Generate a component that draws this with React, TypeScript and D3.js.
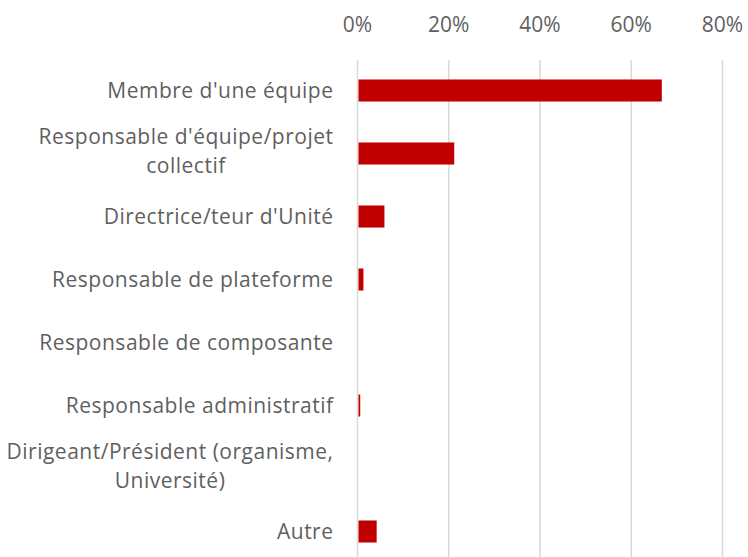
import * as d3 from 'd3';
import React, {useEffect, useRef} from 'react';

// categories, each one is a list of lines (the long ones wrap over two lines)
const categories: string[][] = [
    ["Membre d'une équipe"],
    ["Responsable d'équipe/projet", "collectif"],
    ["Directrice/teur d'Unité"],
    ["Responsable de plateforme"],
    ["Responsable de composante"],
    ["Responsable administratif"],
    ["Dirigeant/Président (organisme,", "Université)"],
    ["Autre"],
];
const shares: number[] = [0.667, 0.212, 0.059, 0.013, 0, 0.006, 0, 0.042];
const ticks: number[] = [0, 0.2, 0.4, 0.6, 0.8];

const W = 748, H = 557;
const margin = {l: 357.5, r: 25.5, t: 59, b: -6};
const font = "'Open Sans', sans-serif";
const grey = "#5f5f5f";

export default function App(){
    const ref = useRef<SVGSVGElement>(null);

    useEffect(() => {
        const svg = d3.select(ref.current);
        svg.selectAll("*").remove();

        const keys = categories.map((c) => c.join(" "));
        const x = d3.scaleLinear().domain([0, 0.8]).range([margin.l, W - margin.r]);
        const y = d3.scaleBand().domain(keys)
            .range([margin.t, H - margin.b])
            .paddingInner(0.65)
            .paddingOuter(0.325);

        // gridlines
        svg.append("g").selectAll("line")
            .data(ticks)
          .enter().append("line")
            .attr("x1", (d) => x(d))
            .attr("x2", (d) => x(d))
            .attr("y1", margin.t + 1)
            .attr("y2", H)
            .attr("stroke", "#d9d9d9")
            .attr("stroke-width", 1.5);

        // tick labels on top
        svg.append("g").selectAll("text")
            .data(ticks)
          .enter().append("text")
            .attr("x", (d) => x(d))
            .attr("y", 32)
            .attr("text-anchor", "middle")
            .style("font-family", font)
            .style("font-size", "21px")
            .attr("fill", grey)
            .text(d3.format(".0%"));

        // bars
        svg.append("g").selectAll("rect")
            .data(shares)
          .enter().append("rect")
            .attr("x", x(0) + 1)
            .attr("y", (d, i) => y(keys[i]) as number)
            .attr("width", (d) => Math.max(0, x(d) - x(0) - 1))
            .attr("height", y.bandwidth())
            .attr("fill", "#c00000");

        // category labels, lines centred on each other, block right aligned
        const labelRight = 333.5;
        const lineHeight = 29;
        categories.forEach((lines, i) => {
            const cy = (y(keys[i]) as number) + y.bandwidth() / 2;
            const g = svg.append("g");
            const texts = lines.map((line, j) =>
                g.append("text")
                    .attr("y", cy + (j - (lines.length - 1) / 2) * lineHeight - (lines.length > 1 ? 3 : 0))
                    .attr("dy", "0.36em")
                    .attr("text-anchor", "middle")
                    .style("font-family", font)
                    .style("font-size", "21px")
                    .style("letter-spacing", "0.5px")
                    .attr("fill", grey)
                    .text(line));
            const widest = d3.max(texts, (t) => (t.node() as SVGTextElement).getComputedTextLength()) || 0;
            texts.forEach((t) => t.attr("x", labelRight - widest / 2));
        });
    }, []);

    return (
        <div style={{position: "absolute", left: 0, top: 0}}>
            <svg ref={ref} width={W} height={H} style={{display: "block", background: "#fff"}} />
        </div>
    );
}
